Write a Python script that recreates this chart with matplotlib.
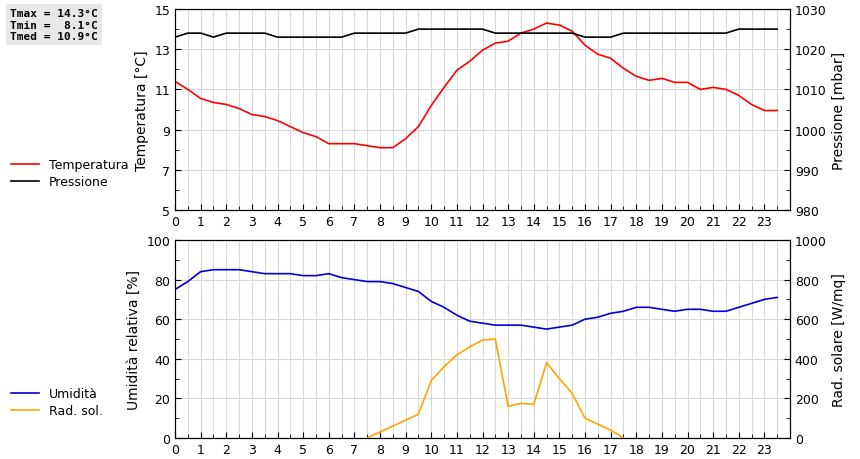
import matplotlib.pyplot as plt
import numpy as np

hours = np.arange(0, 24, 0.5)
temp = [11.4, 11.0, 10.55, 10.35, 10.25, 10.05, 9.75, 9.65, 9.45, 9.15, 8.85, 8.65,
        8.3, 8.3, 8.3, 8.2, 8.1, 8.1, 8.55, 9.15, 10.2, 11.1, 11.95, 12.4,
        12.95, 13.3, 13.4, 13.8, 14.0, 14.3, 14.2, 13.9, 13.2, 12.75, 12.55, 12.05,
        11.65, 11.45, 11.55, 11.35, 11.35, 11.0, 11.1, 11.0, 10.7, 10.25, 9.95, 9.95]
press = [1023, 1024, 1024, 1023, 1024, 1024, 1024, 1024, 1023, 1023, 1023, 1023,
         1023, 1023, 1024, 1024, 1024, 1024, 1024, 1025, 1025, 1025, 1025, 1025,
         1025, 1024, 1024, 1024, 1024, 1024, 1024, 1024, 1023, 1023, 1023, 1024,
         1024, 1024, 1024, 1024, 1024, 1024, 1024, 1024, 1025, 1025, 1025, 1025]
hum = [75, 79, 84, 85, 85, 85, 84, 83, 83, 83, 82, 82,
       83, 81, 80, 79, 79, 78, 76, 74, 69, 66, 62, 59,
       58, 57, 57, 57, 56, 55, 56, 57, 60, 61, 63, 64,
       66, 66, 65, 64, 65, 65, 64, 64, 66, 68, 70, 71]
nan = np.nan
rad = [nan] * 15 + [0, 30, 60, 90, 120, 290, 360, 420, 460, 495, 500, 160, 175,
                    170, 380, 300, 225, 100, 70, 40, 0] + [nan] * 12
stats_text = "Tmax = 14.3°C\nTmin =  8.1°C\nTmed = 10.9°C"

fig = plt.figure(figsize=(8.6, 4.6), dpi=100)
ax1 = fig.add_axes([175/860, 1-211/460, 615/860, 201/460])
ax3 = fig.add_axes([175/860, 1-439/460, 615/860, 198/460])

def style(ax):
    ax.set_xlim(0, 24)
    ax.set_xticks(np.arange(0, 24, 1))
    ax.set_xticks(np.arange(0, 24, 0.5), minor=True)
    ax.grid(True, which="both", axis="x", color="#d8d8d8", lw=0.8)
    ax.grid(True, which="major", axis="y", color="#d8d8d8", lw=0.8)
    ax.set_axisbelow(True)
    ax.tick_params(labelsize=9, direction="in", length=4)
    ax.tick_params(which="minor", direction="in", length=3)

style(ax1)
ax1.set_ylim(5, 15)
ax1.set_yticks(range(5, 16, 2))
ax1.set_yticks(range(5, 16), minor=True)
ax1.set_ylabel("Temperatura [°C]", fontsize=10)
ax2 = ax1.twinx()
ax2.set_ylim(980, 1030)
ax2.set_yticks(range(980, 1031, 10))
ax2.set_yticks(range(980, 1031, 5), minor=True)
ax2.tick_params(labelsize=9, direction="in", length=4)
ax2.tick_params(which="minor", direction="in", length=3)
ax2.set_ylabel("Pressione [mbar]", fontsize=10)
lt, = ax1.plot(hours, temp, color="red", lw=1.2)
lp, = ax2.plot(hours, press, color="black", lw=1.2)

style(ax3)
ax3.set_ylim(0, 100)
ax3.set_yticks(range(0, 101, 20))
ax3.set_yticks(range(0, 101, 10), minor=True)
ax3.set_ylabel("Umidità relativa [%]", fontsize=10)
ax4 = ax3.twinx()
ax4.set_ylim(0, 1000)
ax4.set_yticks(range(0, 1001, 200))
ax4.set_yticks(range(0, 1001, 100), minor=True)
ax4.tick_params(labelsize=9, direction="in", length=4)
ax4.tick_params(which="minor", direction="in", length=3)
ax4.set_ylabel("Rad. solare [W/mq]", fontsize=10)
lh, = ax3.plot(hours, hum, color="#0000dd", lw=1.2)
lr, = ax4.plot(hours, rad, color="orange", lw=1.2)

fig.legend([lt, lp], ["Temperatura", "Pressione"], loc="upper left",
           bbox_to_anchor=(0.0, 1-148/460), frameon=False, fontsize=9,
           handlelength=2.2, labelspacing=0.3)
fig.legend([lh, lr], ["Umidità", "Rad. sol."], loc="upper left",
           bbox_to_anchor=(0.0, 1-377/460), frameon=False, fontsize=9,
           handlelength=2.2, labelspacing=0.3)
fig.text(0.012, 1-9/460, stats_text, family="DejaVu Sans Mono", weight="bold",
         fontsize=8, va="top", ha="left",
         bbox=dict(facecolor="#e8e8e8", edgecolor="none", pad=3))

fig.savefig("out.png", dpi=100)
